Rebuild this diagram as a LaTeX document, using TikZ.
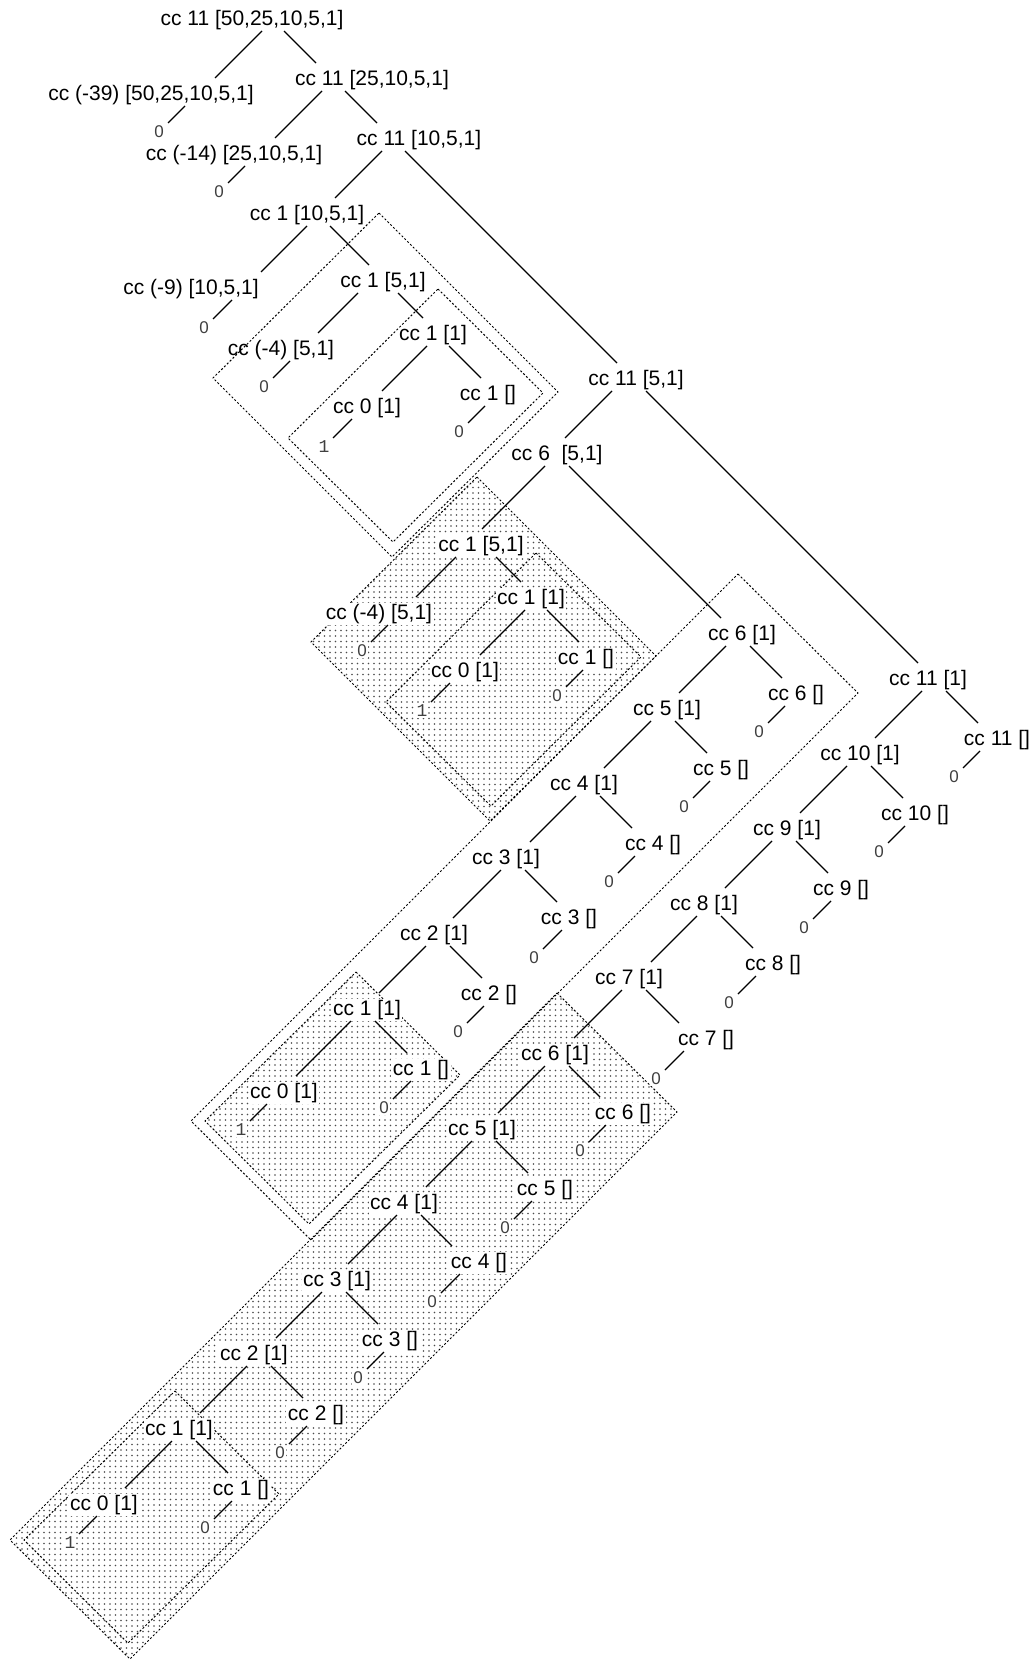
\documentclass[tikz,border=0pt]{standalone}
\usepackage{fontspec}
\setmainfont{Liberation Sans}
\newfontfamily\leaffont{Liberation Mono}
\usetikzlibrary{calc,patterns.meta}

\tikzset{
  call/.style={inner sep=1.5pt, fill=white, font=\fontsize{21}{25}\selectfont,
    text height=15pt, text depth=4.5pt},
  leaf/.style={inner sep=1pt, fill=white, text=black!75,
    font=\fontsize{17}{20}\selectfont},
  one/.style={leaf, font=\leaffont\fontsize{18}{20}\selectfont},
  edge/.style={line width=1.2pt},
  frame/.style={line width=1pt, dash pattern=on 2pt off 2pt},
  shade/.style={pattern={Dots[distance=5.5pt,radius=0.8pt]}, pattern color=black!70},
}

% left / right call: 45 degree line from below the caller down to the callee
\newcommand{\lft}[3]{\draw[edge] let \p1=([xshift=#3pt]#1.center), \p2=(#2.center) in
  ({\x1},{\y1-11pt}) -- ({\x1-(\y1)+(\y2)+28pt},{\y2+17pt});}
\newcommand{\rgt}[3]{\draw[edge] let \p1=([xshift=#3pt]#1.center), \p2=(#2.center) in
  ({\x1},{\y1-11pt}) -- ({\x1+(\y1)-(\y2)-28pt},{\y2+17pt});}
% short line to a result
\newcommand{\zr}[2]{\draw[edge] let \p1=(#1.center), \p2=(#2.center) in
  ({\x2+(\y1)-(\y2)-11pt},{\y1-11pt}) -- ({\x2+9pt},{\y2+9pt});}

\begin{document}
\begin{tikzpicture}[x=1pt,y=-1pt]
\useasboundingbox (0,0) rectangle (1035,1659);

% shaded repeats, drawn under the texts
\fill[shade] (477,477) -- (656,656) -- (490,821) -- (311,642) -- cycle;
\fill[shade] (356,972) -- (460,1075) -- (309,1224) -- (205,1121) -- cycle;
\fill[shade] (557,993) -- (677,1112) -- (130,1659) -- (10,1540) -- cycle;
\draw[frame] (477,477) -- (656,656) -- (490,821) -- (311,642) -- cycle;
\draw[frame] (536,553) -- (641,657) -- (491,806) -- (386,702) -- cycle;
\draw[frame] (356,972) -- (460,1075) -- (309,1224) -- (205,1121) -- cycle;
\draw[frame] (557,993) -- (677,1112) -- (130,1659) -- (10,1540) -- cycle;
\draw[frame] (175,1391) -- (279,1494) -- (128,1643) -- (24,1540) -- cycle;

% top of the tree
\node[call] (t1) at (252,20) {cc 11 [50,25,10,5,1]};
\node[call] (t2) at (151,95) {cc (-39) [50,25,10,5,1]};
\node[call] (t3) at (372,80) {cc 11 [25,10,5,1]};
\node[call] (t4) at (234,155) {cc (-14) [25,10,5,1]};
\node[call] (t5) at (419,140) {cc 11 [10,5,1]};
\node[call] (t6) at (307,215) {cc 1 [10,5,1]};
\node[call] (t7) at (191,289) {cc (-9) [10,5,1]};
\node[call] (t13) at (636,380) {cc 11 [5,1]};
\node[call] (t14) at (557,455) {cc 6\ \ [5,1]};
\node[leaf] (t2z) at (159,132) {0};
\node[leaf] (t4z) at (219,192) {0};
\node[leaf] (t7z) at (204,328) {0};

\lft{t1}{t2}{10}
\rgt{t1}{t3}{32}
\lft{t3}{t4}{-50}
\rgt{t3}{t5}{-27}
\lft{t5}{t6}{-37}
\rgt{t5}{t13}{-14}
\lft{t6}{t7}{0}
\lft{t13}{t14}{-24}
\zr{t2}{t2z}
\zr{t4}{t4z}
\zr{t7}{t7z}

% cc 1 [5,1] and its copy under cc 6 [5,1]
\foreach \pre/\dx/\dy in {a/0/0, b/98/264}{
  \begin{scope}[shift={(\dx,\dy)}]
    \node[call] (\pre8) at (383,282) {cc 1 [5,1]};
    \node[call] (\pre9) at (281,350) {cc (-4) [5,1]};
    \node[call] (\pre10) at (433,335) {cc 1 [1]};
    \node[call] (\pre11) at (367,408) {cc 0 [1]};
    \node[call] (\pre12) at (488,395) {cc 1 []};
    \node[leaf] (\pre9z) at (264,387) {0};
    \node[one] (\pre11z) at (324,447) {1};
    \node[leaf] (\pre12z) at (459,432) {0};
  \end{scope}
  \lft{\pre8}{\pre9}{-25}
  \rgt{\pre8}{\pre10}{15}
  \lft{\pre10}{\pre11}{-6}
  \rgt{\pre10}{\pre12}{16}
  \zr{\pre9}{\pre9z}
  \zr{\pre11}{\pre11z}
  \zr{\pre12}{\pre12z}
}
\rgt{t6}{a8}{23}
\lft{t14}{b8}{-12}

% cc 6 [1]
\node[call] (s0) at (284,1093) {cc 0 [1]};
\node[one] (s0z) at (241,1130) {1};
\zr{s0}{s0z}
\foreach \k/\xa/\ya/\s/\xb/\yb/\xz/\yz
  [evaluate=\k as \j using int(\k-1), evaluate=\s as \t using int(\s+24)] in
  {1/367/1010/-16/421/1070/384/1108, 2/434/935/-8/489/995/458/1032,
   3/506/859/-5/569/919/534/958, 4/584/785/-8/653/845/609/882,
   5/667/710/-16/721/770/684/807, 6/742/635/-16/796/695/759/732}{
  \node[call] (s\k) at (\xa,\ya) {cc \k{} [1]};
  \node[call] (sb\k) at (\xb,\yb) {cc \k{} []};
  \node[leaf] (sz\k) at (\xz,\yz) {0};
  \lft{s\k}{s\j}{\s}
  \rgt{s\k}{sb\k}{\t}
  \zr{sb\k}{sz\k}
}
\rgt{t14}{s6}{12}

% cc 11 [1]
\node[call] (r0) at (104,1505) {cc 0 [1]};
\node[one] (r0z) at (70,1543) {1};
\zr{r0}{r0z}
\foreach \k/\xa/\ya/\s/\xb/\yb/\xz/\yz
  [evaluate=\k as \j using int(\k-1), evaluate=\s as \t using int(\s+24)] in
  {1/179/1430/-7/241/1490/205/1528, 2/254/1355/-7/316/1415/280/1453,
   3/337/1281/-15/390/1341/358/1378, 4/404/1204/-7/479/1263/432/1302,
   5/482/1130/-10/545/1190/505/1228, 6/555/1055/-10/623/1114/580/1151,
   7/629/979/-7/706/1040/656/1079, 8/704/905/-7/773/965/729/1003,
   9/787/830/-15/841/890/804/928, 10/860/755/-13/915/815/879/852,
   11/928/680/-6/997/740/954/777}{
  \node[call] (r\k) at (\xa,\ya) {cc \k{} [1]};
  \node[call] (rb\k) at (\xb,\yb) {cc \k{} []};
  \node[leaf] (rz\k) at (\xz,\yz) {0};
  \lft{r\k}{r\j}{\s}
  \rgt{r\k}{rb\k}{\t}
  \zr{rb\k}{rz\k}
}
\rgt{t13}{r11}{10}

% plain boxes, drawn over the texts
\draw[frame] (379,213) -- (558,392) -- (392,557) -- (213,378) -- cycle;
\draw[frame] (438,289) -- (543,393) -- (393,542) -- (288,438) -- cycle;
\draw[frame] (738,574) -- (858,693) -- (311,1240) -- (191,1121) -- cycle;
\end{tikzpicture}
\end{document}
